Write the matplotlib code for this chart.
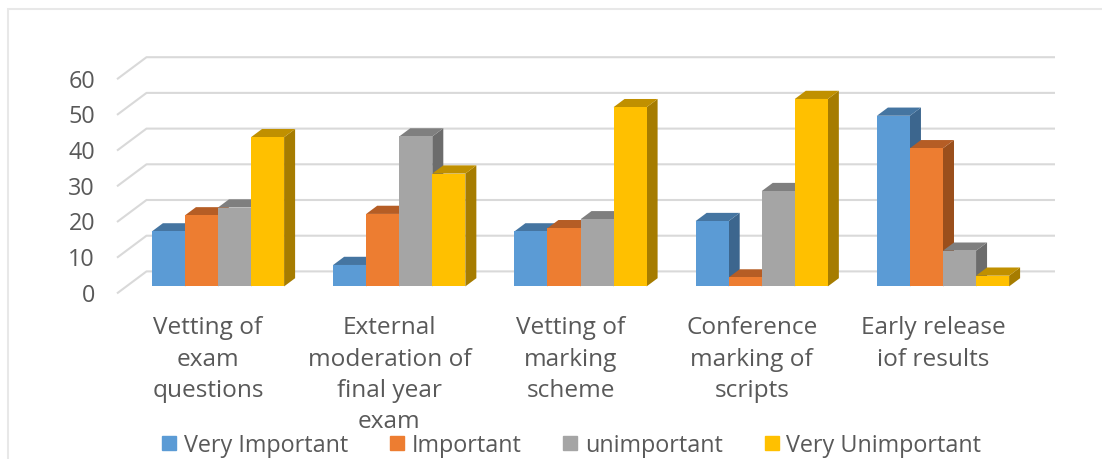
import matplotlib
matplotlib.use("Agg")
import matplotlib.pyplot as plt
from matplotlib.patches import Polygon, Rectangle
from matplotlib.lines import Line2D

categories = ["Vetting of\nexam\nquestions", "External\nmoderation of\nfinal year\nexam",
              "Vetting of\nmarking\nscheme", "Conference\nmarking of\nscripts", "Early release\niof results"]
series_names = ["Very Important", "Important", "unimportant", "Very Unimportant"]
very_important = [15.4, 6.0, 15.4, 18.3, 47.8]
important = [19.9, 20.3, 16.3, 2.5, 38.7]
unimportant = [22.1, 42.0, 18.8, 26.7, 10.0]
very_unimportant = [41.8, 31.6, 50.2, 52.5, 3.0]
ticks = [0, 10, 20, 30, 40, 50, 60]

front = ["#5B9BD5", "#ED7D31", "#A5A5A5", "#FFC000"]
top = ["#4575A1", "#B55D25", "#7F7F7F", "#C09000"]
side = ["#3C668E", "#9A4F1C", "#6C6C6C", "#A67C00"]
values = [very_important, important, unimportant, very_unimportant]

FONT = ["Open Sans", "DejaVu Sans"]
plt.rcParams["font.family"] = FONT

W, H = 1102, 460
fig = plt.figure(figsize=(W/100, H/100), dpi=100)
ax = fig.add_axes([0, 0, 1, 1])
px_x = 181.25          # pixels per category
px_y = 3.57            # pixels per value unit
x0_px, y0_px = 218.0, 287.4
ax.set_xlim(-x0_px/px_x, (W-x0_px)/px_x)
ax.set_ylim(-(H-y0_px)/px_y, y0_px/px_y)
ax.axis("off")

txt = "#595959"
fs = 16.8
fs_cat = 17.6

# outer frame
ax.add_patch(Rectangle((7.5/W, 1-(9.5/H)-2), 2, 2, transform=ax.transAxes, fill=False,
                       ec="#E8E8E8", lw=1.5))

bw = 33.05/px_x
ddx, ddy = 11/px_x, 8.2/px_y
fy = -7/px_y       # floor front offset in value units
left_front = (117 - x0_px)/px_x
right_back = (1055 - x0_px)/px_x
back_dx, back_dy = 29.5/px_x, 22/px_y
for t in ticks:
    y = t + fy
    ax.plot([left_front, left_front+back_dx, right_back], [y, y+back_dy, y+back_dy],
            color="#D9D9D9", lw=1.5, zorder=1, solid_capstyle="butt")
    ax.text((95 - x0_px)/px_x, t - 1.5, str(t), ha="right", va="center_baseline",
            fontsize=fs, color=txt)

for c, cat in enumerate(categories):
    for s in range(4):
        v = values[s][c]
        xl = c + (s-2)*bw
        xr = xl + bw
        z = 2 + s*0.1
        ax.bar(xl, v, width=bw, align="edge", color=front[s], zorder=z+0.05)
        ax.add_patch(Polygon([(xr, 0), (xr+ddx, ddy), (xr+ddx, v+ddy), (xr, v)],
                             fc=side[s], ec="none", zorder=z))
        ax.add_patch(Polygon([(xl, v), (xl+ddx, v+ddy), (xr+ddx, v+ddy), (xr, v)],
                             fc=top[s], ec="none", zorder=z))
    ax.text(c-0.055, -(316.5-y0_px)/px_y, cat, ha="center", va="top", fontsize=fs_cat, color=txt,
            linespacing=1.39, zorder=5)

handles = [Line2D([], [], marker="s", ls="none", color=front[i], markersize=10.5) for i in range(4)]
leg = fig.legend(handles, series_names, ncols=4, loc="center", bbox_to_anchor=(569.5/W, 1-446/H),
                 frameon=False, labelcolor=txt, columnspacing=1.6,
                 handletextpad=0.12, handlelength=1.0, borderpad=0, borderaxespad=0,
                 prop={"family": FONT, "size": fs})
fig.savefig("out.png", dpi=100, facecolor="white")
